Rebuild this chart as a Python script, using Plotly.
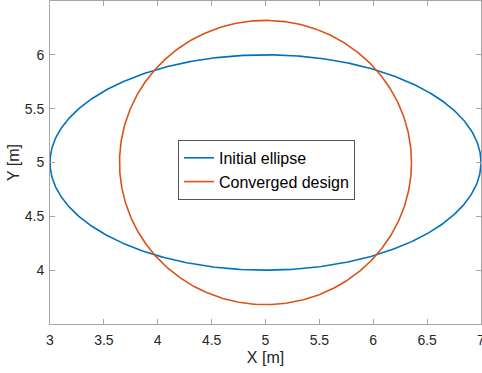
import numpy as np
import plotly.graph_objects as go

# Shape parameters (centre and semi-axes, metres)
series_names = ["Initial ellipse", "Converged design"]
centre_x = [5.0, 5.0]
centre_y = [5.0, 5.0]
semi_axis_x = [2.0, 1.355]
semi_axis_y = [1.0, 1.32]
colors = ["#0072BD", "#D95319"]

x_ticks = [3, 3.5, 4, 4.5, 5, 5.5, 6, 6.5, 7]
y_ticks = [4, 4.5, 5, 5.5, 6]

theta = np.linspace(0, 2 * np.pi, 721)

fig = go.Figure()
for name, cx, cy, a, b, c in zip(series_names, centre_x, centre_y, semi_axis_x, semi_axis_y, colors):
    fig.add_trace(go.Scatter(
        x=cx + a * np.cos(theta), y=cy + b * np.sin(theta),
        mode="lines", name=name, line=dict(color=c, width=1.6),
    ))

axis_common = dict(
    showgrid=False, zeroline=False, showline=True, linecolor="#a6a6a6", linewidth=1,
    mirror="ticks", ticks="inside", ticklen=5, tickcolor="#a6a6a6", automargin=False,
    ticklabeloverflow="allow",
    tickfont=dict(family="Liberation Sans, Arial", size=14, color="#262626"),
    title_font=dict(family="Liberation Sans, Arial", size=16, color="#262626"),
)

fig.update_layout(
    width=482, height=373,
    margin=dict(l=50, r=1, t=1, b=49),
    paper_bgcolor="white", plot_bgcolor="white",
    xaxis=dict(range=[3, 7], tickvals=x_ticks, ticktext=[f"{v:g}" for v in x_ticks],
               ticklabelstandoff=3,
               title=dict(text="X [m]", standoff=5), **axis_common),
    yaxis=dict(range=[3.5, 6.5], tickvals=y_ticks, ticktext=[f"{v:g}" for v in y_ticks],
               ticklabelstandoff=2,
               title=dict(text="Y [m]", standoff=1), **axis_common),
    legend=dict(x=0.297, y=0.57, xanchor="left", yanchor="top",
                bgcolor="white", bordercolor="#555555", borderwidth=1,
                font=dict(family="Liberation Sans, Arial", size=16, color="#000000"),
                tracegroupgap=0, itemwidth=30),
    showlegend=True,
)

fig.write_html("out.html", config={"displayModeBar": False},
               post_script="document.body.style.margin='0';document.body.style.overflow='hidden';")
